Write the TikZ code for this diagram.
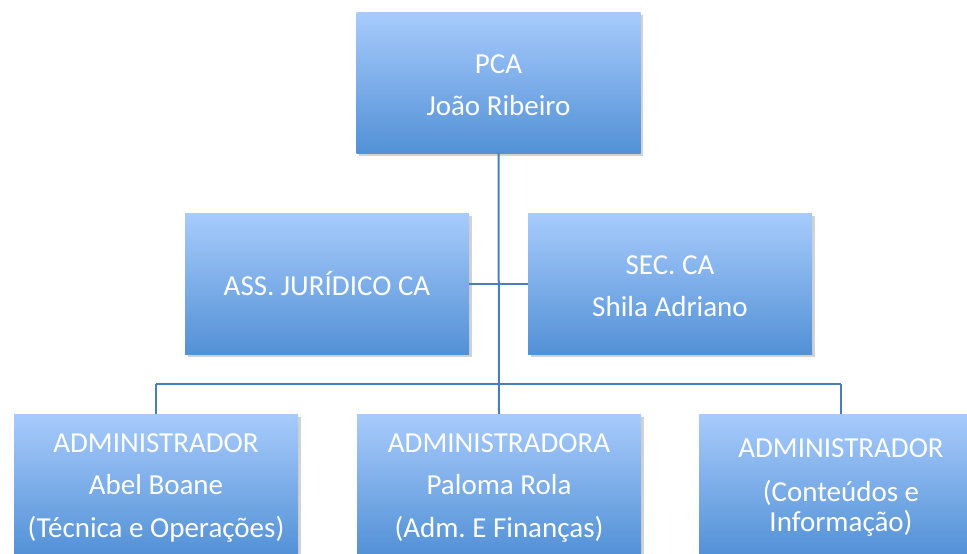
\documentclass[tikz,border=0pt]{standalone}
\usepackage{fontspec}
\setmainfont{Carlito}
\usetikzlibrary{shadows}
\definecolor{topblue}{RGB}{168,203,252}
\definecolor{botblue}{RGB}{82,145,214}
\definecolor{linkblue}{RGB}{74,126,187}
\newcommand\mytopstrut{\rule{0pt}{25pt}}
\tikzset{
  orgbox/.style={rectangle, minimum width=284pt, minimum height=141pt, inner sep=0pt,
    top color=topblue, bottom color=botblue, draw=none, text=white, align=center,
    font=\fontsize{29}{30}\selectfont\frenchspacing,
    drop shadow={shadow xshift=2.5pt, shadow yshift=-3pt, opacity=.25, fill=black!70}},
  link/.style={draw=linkblue, line width=2pt}
}
\begin{document}
\begin{tikzpicture}[x=1pt,y=-1pt]
\useasboundingbox (0,0) rectangle (967,554);
\coordinate (jl) at (156,384);
\coordinate (jr) at (841,384);
\node[orgbox] (pca) at (498.5,82.5) {\mytopstrut PCA\\[12pt]João Ribeiro};
\node[orgbox] (ass) at (327,283.5) {ASS. JURÍDICO CA};
\node[orgbox] (sec) at (670,283.5) {\mytopstrut SEC. CA\\[12pt]Shila Adriano};
\node[orgbox] (a1) at (156,484.5) {\mytopstrut ADMINISTRADOR\\[12.5pt]Abel Boane\\[12.5pt](Técnica e Operações)};
\node[orgbox] (a2) at (499,484.5) {\mytopstrut ADMINISTRADORA\\[12.5pt]Paloma Rola\\[12.5pt](Adm. E Finanças)};
\node[orgbox] (a3) at (841,484.5) {\mytopstrut ADMINISTRADOR\\[14pt](Conteúdos e\\Informação)};
\draw[link] (pca.south) -- (a2.north);
\draw[link] (ass.east) -- (sec.west);
\draw[link] (jl) -- (jr);
\draw[link] (jl) -- (a1.north);
\draw[link] (jr) -- (a3.north);
\end{tikzpicture}
\end{document}
